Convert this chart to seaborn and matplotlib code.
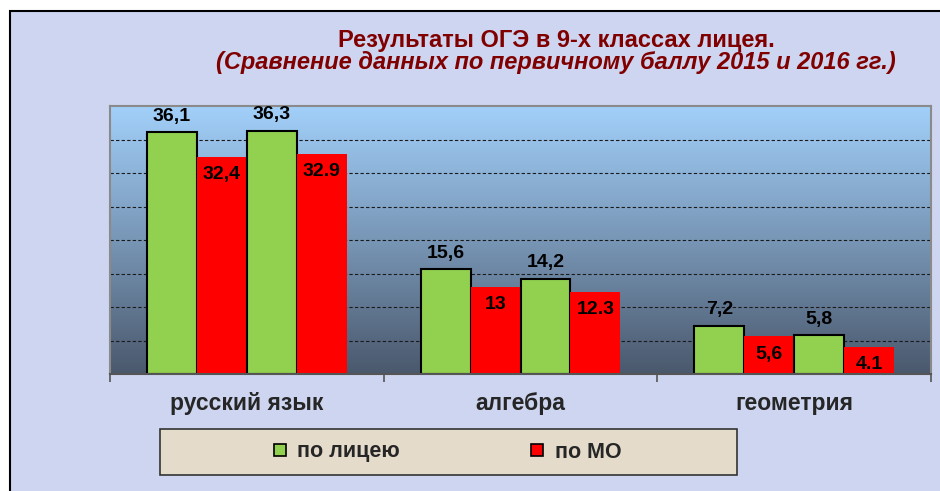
import numpy as np
import pandas as pd
import seaborn as sns
import matplotlib
matplotlib.use("Agg")
from matplotlib import pyplot as plt
from matplotlib.colors import LinearSegmentedColormap
from matplotlib.lines import Line2D
from matplotlib.patches import Rectangle

# data
subjects = ["русский язык", "алгебра", "геометрия"]
series = ["по лицею 2015", "по МО 2015", "по лицею 2016", "по МО 2016"]
liceum_2015 = [36.1, 15.6, 7.2]
mo_2015 = [32.4, 13.0, 5.6]
liceum_2016 = [36.3, 14.2, 5.8]
mo_2016 = [32.9, 12.3, 4.1]
# value labels as printed on the chart (mixed separators kept)
labels_liceum_2015 = ["36,1", "15,6", "7,2"]
labels_mo_2015 = ["32,4", "13", "5,6"]
labels_liceum_2016 = ["36,3", "14,2", "5,8"]
labels_mo_2016 = ["32.9", "12.3", "4.1"]
legend_labels = ["по лицею", "по МО"]

GREEN = "#92D050"
RED = "#FF0000"
BG = "#CDD5F0"

values = [liceum_2015, mo_2015, liceum_2016, mo_2016]
labels = [labels_liceum_2015, labels_mo_2015, labels_liceum_2016, labels_mo_2016]
df = pd.DataFrame({
    "subject": subjects * len(series),
    "series": [s for s in series for _ in subjects],
    "value": [v for vals in values for v in vals],
})

sns.set_style("white")
plt.rcParams["font.family"] = ["Liberation Sans", "DejaVu Sans"]

fig = plt.figure(figsize=(9.4, 4.91), dpi=100)
fig.patch.set_facecolor("white")
# page background with a thin black frame at top/left
fig.patches.append(Rectangle((10 / 940, -0.05), 1.1, (491 - 11) / 491 + 0.05,
                             transform=fig.transFigure, facecolor=BG,
                             edgecolor="black", linewidth=1.5, zorder=-5))

ax = fig.add_axes([110 / 940, 1 - 374 / 491, (931 - 110) / 940, (374 - 106) / 491])

sns.barplot(data=df, x="subject", y="value", hue="series", hue_order=series,
            palette=[GREEN, RED, GREEN, RED], width=0.73, gap=0, saturation=1,
            legend=False, ax=ax, zorder=2)

# gradient fill of the plot area
grad = LinearSegmentedColormap.from_list("plotbg", ["#4A586C", "#7896B6", "#A2D0FA"])
ax.imshow(np.linspace(0, 1, 256).reshape(-1, 1), extent=(-0.5, 2.5, 0, 40),
          aspect="auto", origin="lower", cmap=grad, zorder=0)
ax.set_xlim(-0.5, 2.5)
ax.set_ylim(0, 40)

for i, cont in enumerate(ax.containers):
    green = i % 2 == 0
    for bar, txt in zip(cont.patches, labels[i]):
        if green:
            bar.set_edgecolor("black")
            bar.set_linewidth(1.5)
        else:
            bar.set_linewidth(0)
        x = bar.get_x() + bar.get_width() / 2
        top = bar.get_height()
        ax.annotate(txt, (x, top), xytext=(0, 11.5 if green else -13),
                    textcoords="offset points", ha="center", va="center",
                    fontsize=14, fontweight="bold", color="black", zorder=5)

ax.set_yticks([5, 10, 15, 20, 25, 30, 35])
ax.set_yticklabels([])
ax.tick_params(axis="y", length=0)
ax.yaxis.grid(True, color="#1a1a1a", linestyle=(0, (3, 2)), linewidth=0.8)
ax.set_axisbelow(True)
for gl in ax.get_ygridlines():
    gl.set_zorder(1)

ax.set_xticks(range(len(subjects)))
ax.set_xticklabels(subjects, fontsize=16.5, fontweight="bold")
ax.tick_params(axis="x", which="major", bottom=True, length=0, pad=13)
ax.set_xticks([-0.5, 0.5, 1.5, 2.5], minor=True)
ax.tick_params(axis="x", which="minor", bottom=True, length=6, width=1.2,
               color="#555555", direction="out")
ax.set_xlabel("")
ax.set_ylabel("")

for side in ["left", "top", "right"]:
    ax.spines[side].set_color("#8A8A8A")
    ax.spines[side].set_linewidth(1.5)
ax.spines["bottom"].set_color("#555555")
ax.spines["bottom"].set_linewidth(1.5)

fig.text(556 / 940, 1 - 40 / 491, "Результаты ОГЭ в 9-х классах лицея.",
         ha="center", va="center", fontsize=17, fontweight="bold", color="#800000")
fig.text(556 / 940, 1 - 62 / 491, "(Сравнение данных по первичному баллу 2015 и 2016 гг.)",
         ha="center", va="center", fontsize=17, fontweight="bold", fontstyle="italic",
         color="#800000")

# legend box
fig.patches.append(Rectangle((160 / 940, (491 - 475) / 491), 577 / 940, 46 / 491,
                             transform=fig.transFigure, facecolor="#E4DBCB",
                             edgecolor="#333333", linewidth=1.2, zorder=1))
handles = [Line2D([], [], linestyle="none", marker="s", markersize=9,
                  markerfacecolor=c, markeredgecolor="black", markeredgewidth=1.2)
           for c in [GREEN, RED]]
fig.legend(handles, legend_labels, loc="center", bbox_to_anchor=(445 / 940, 1 - 452 / 491),
           ncol=2, frameon=False, columnspacing=5.9, handletextpad=0.3, handlelength=1.0,
           prop={"size": 15.5, "weight": "bold"})

fig.savefig("out.png", dpi=100)
